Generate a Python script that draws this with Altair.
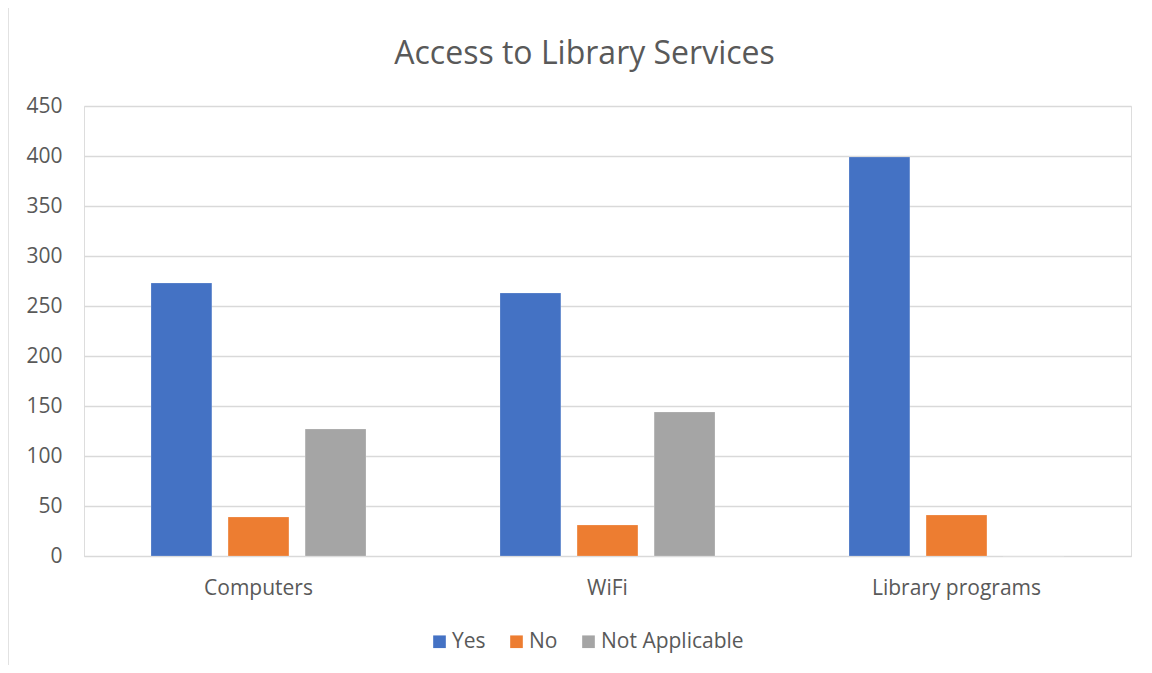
import altair as alt
import pandas as pd

categories = ["Computers", "WiFi", "Library programs"]
series = ["Yes", "No", "Not Applicable"]
yes_vals = [273, 263, 399]
no_vals = [39, 31, 41]
na_vals = [127, 144, 0]
colors = ["#4472C4", "#ED7D31", "#A5A5A5"]
y_ticks = [0, 50, 100, 150, 200, 250, 300, 350, 400, 450]

rows = []
for i, c in enumerate(categories):
    for s, vals in zip(series, [yes_vals, no_vals, na_vals]):
        rows.append({"category": c, "series": s, "value": vals[i]})
df = pd.DataFrame(rows)

FONT = "Open Sans"
TXT = "#595959"

bars = alt.Chart(df).mark_bar(stroke="#ffffff", strokeOpacity=0.4, strokeWidth=0.5).encode(
    x=alt.X("category:N", sort=categories, title=None,
            scale=alt.Scale(paddingInner=0.384, paddingOuter=0.192),
            axis=alt.Axis(labelAngle=0, labelFontSize=21, labelColor=TXT, labelFont=FONT,
                          labelPadding=21, ticks=False, domain=True, domainColor="#D9D9D9",
                          grid=False)),
    xOffset=alt.XOffset("series:N", sort=series,
                        scale=alt.Scale(paddingInner=0.21, paddingOuter=0)),
    y=alt.Y("value:Q", title=None,
            scale=alt.Scale(domain=[0, 450], nice=False),
            axis=alt.Axis(values=y_ticks, labelFontSize=21, labelColor=TXT, labelFont=FONT,
                          labelPadding=22, ticks=False, domain=False, gridColor="#D9D9D9",
                          gridWidth=1.3)),
    color=alt.Color("series:N", sort=series,
                    scale=alt.Scale(domain=series, range=colors),
                    legend=alt.Legend(title=None, orient="none", direction="horizontal",
                                      legendX=345, legendY=525, symbolType="square",
                                      symbolSize=160, symbolStrokeWidth=0,
                                      labelFontSize=21, labelColor=TXT, labelFont=FONT,
                                      columnPadding=20, labelOffset=2, symbolOpacity=1)),
)

border = alt.Chart(pd.DataFrame({"d": [0]})).mark_rect(
    fill="#ffffff", fillOpacity=0, stroke="#D9D9D9", strokeWidth=1.5, clip=False
).encode(
    x=alt.value(-76), x2=alt.value(1100), y=alt.value(-99), y2=alt.value(700)
)

chart = alt.layer(border, bars).properties(
    width=1047, height=450,
    title=alt.Title("Access to Library Services", fontSize=32, font=FONT, color=TXT,
                    fontWeight="normal", anchor="middle", offset=0, dy=90, dx=-23,
                    baseline="alphabetic"),
    padding={"left": 76, "top": 98, "right": 13, "bottom": 109},
    autosize=alt.AutoSizeParams(type="none"),
).configure_view(stroke=None).configure(font=FONT)

chart.save("out.html", embed_options={"renderer": "svg", "actions": False})
